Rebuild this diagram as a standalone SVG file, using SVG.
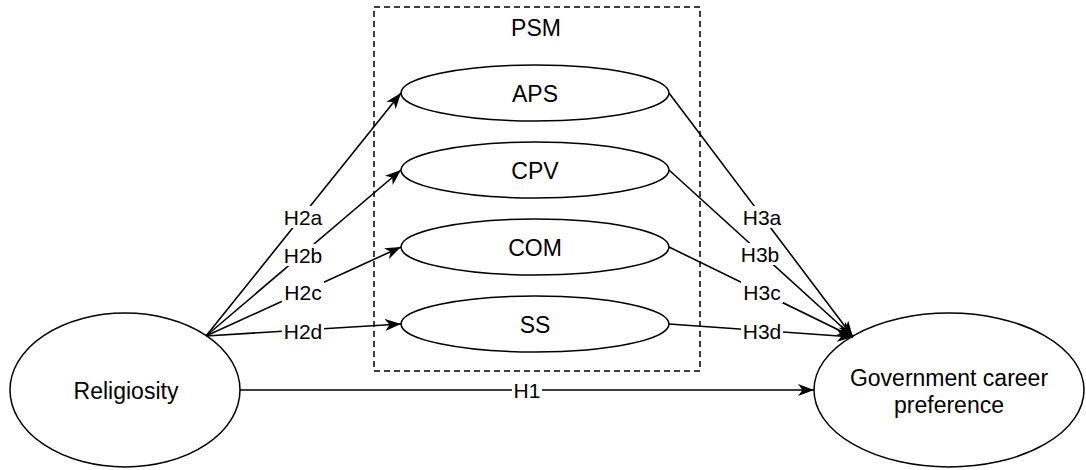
<svg xmlns="http://www.w3.org/2000/svg" width="1086" height="470" viewBox="0 0 1086 470">
<style>
.n{fill:#fff;stroke:#000;stroke-width:1.5}
.t{font-family:"Liberation Sans",Arial,sans-serif;font-size:23px;fill:#000;text-anchor:middle;dominant-baseline:central}
.l{font-family:"Liberation Sans",Arial,sans-serif;font-size:21px;fill:#000;text-anchor:middle;dominant-baseline:central}
.e{fill:none;stroke:#000;stroke-width:1.6}
.lb{fill:#fff}
</style>
<defs>
<marker id="a" markerUnits="userSpaceOnUse" viewBox="0 0 16 12" refX="16" refY="6" markerWidth="16" markerHeight="12" orient="auto">
<path d="M0,0 L16,6 L0,12 L4.5,6 Z" fill="#000"/>
</marker>
</defs>
<rect width="1086" height="470" fill="#fff"/>
<g id="psm">
<rect x="374" y="7" width="326" height="364" fill="none" stroke="#000" stroke-width="1.5" stroke-dasharray="6 4"/>
<text class="t" x="536" y="28">PSM</text>
</g>
<g id="aps"><ellipse class="n" cx="535" cy="93" rx="134" ry="28"/><text class="t" x="535" y="94">APS</text></g>
<g id="cpv"><ellipse class="n" cx="535" cy="170" rx="134" ry="28"/><text class="t" x="535" y="171">CPV</text></g>
<g id="com"><ellipse class="n" cx="535" cy="247" rx="134" ry="28"/><text class="t" x="535" y="248">COM</text></g>
<g id="ss"><ellipse class="n" cx="535" cy="324" rx="134" ry="28"/><text class="t" x="535" y="325">SS</text></g>
<g id="religiosity"><ellipse class="n" cx="125" cy="390" rx="115" ry="77"/><text class="t" x="126" y="391">Religiosity</text></g>
<g id="gov"><ellipse class="n" cx="949" cy="390" rx="135" ry="77"/><text class="t" x="949" y="378">Government career</text><text class="t" x="949" y="405">preference</text></g>
<g id="connectors">
<line class="e" x1="206" y1="336" x2="401" y2="93" marker-end="url(#a)"/>
<line class="e" x1="206" y1="336" x2="401" y2="170" marker-end="url(#a)"/>
<line class="e" x1="206" y1="336" x2="401" y2="247" marker-end="url(#a)"/>
<line class="e" x1="206" y1="336" x2="401" y2="324" marker-end="url(#a)"/>
<line class="e" x1="669" y1="93" x2="853" y2="337" marker-end="url(#a)"/>
<line class="e" x1="669" y1="170" x2="853" y2="337" marker-end="url(#a)"/>
<line class="e" x1="669" y1="247" x2="853" y2="337" marker-end="url(#a)"/>
<line class="e" x1="669" y1="324" x2="853" y2="337" marker-end="url(#a)"/>
<line class="e" x1="240" y1="390" x2="814" y2="390" marker-end="url(#a)"/>
<rect class="lb" x="282" y="206" width="42" height="22"/><text class="l" x="303" y="217">H2a</text>
<rect class="lb" x="282" y="244" width="42" height="22"/><text class="l" x="303" y="255">H2b</text>
<rect class="lb" x="282" y="281" width="42" height="22"/><text class="l" x="303" y="292">H2c</text>
<rect class="lb" x="282" y="320" width="42" height="22"/><text class="l" x="303" y="331">H2d</text>
<rect class="lb" x="741" y="206" width="42" height="22"/><text class="l" x="762" y="217">H3a</text>
<rect class="lb" x="739" y="243" width="42" height="22"/><text class="l" x="760" y="254">H3b</text>
<rect class="lb" x="741" y="281" width="42" height="22"/><text class="l" x="762" y="292">H3c</text>
<rect class="lb" x="741" y="320" width="42" height="22"/><text class="l" x="762" y="331">H3d</text>
<rect class="lb" x="512" y="379" width="30" height="22"/><text class="l" x="527" y="390">H1</text>
</g>
</svg>
